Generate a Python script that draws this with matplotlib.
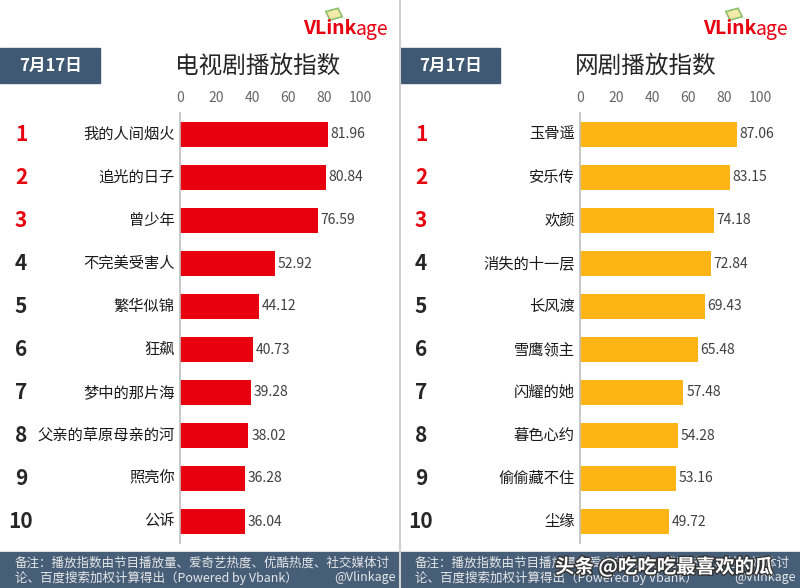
import matplotlib.pyplot as plt
import matplotlib.patheffects as pe
from matplotlib.patches import Rectangle

plt.rcParams['font.family'] = ['Noto Sans CJK SC', 'DejaVu Sans']

date_label = "7月17日"

tv_title = "电视剧播放指数"
tv_names = ["我的人间烟火", "追光的日子", "曾少年", "不完美受害人", "繁华似锦",
            "狂飙", "梦中的那片海", "父亲的草原母亲的河", "照亮你", "公诉"]
tv_values = [81.96, 80.84, 76.59, 52.92, 44.12, 40.73, 39.28, 38.02, 36.28, 36.04]

web_title = "网剧播放指数"
web_names = ["玉骨遥", "安乐传", "欢颜", "消失的十一层", "长风渡",
             "雪鹰领主", "闪耀的她", "暮色心约", "偷偷藏不住", "尘缘"]
web_values = [87.06, 83.15, 74.18, 72.84, 69.43, 65.48, 57.48, 54.28, 53.16, 49.72]

ticks = [0, 20, 40, 60, 80, 100]
ranks = [str(i) for i in range(1, 11)]

footer_line1 = "备注：播放指数由节目播放量、爱奇艺热度、优酷热度、社交媒体讨"
footer_line2 = "论、百度搜索加权计算得出（Powered by Vbank）"

W, H = 800, 588
fig = plt.figure(figsize=(8, 5.88), dpi=100)
fig.patch.set_facecolor("white")

red = "#e8000f"
orange = "#fdb516"
slate = "#3f5873"


def px(x, y):
    # pixel coords (top-left origin) -> figure fraction
    return x / W, 1 - y / H


def panel(x0, title, names, values, color):
    ax = fig.add_axes([(x0 + 180) / W, 1 - 543 / H, 180 / W, 430 / H])
    y = list(range(len(names)))
    ax.barh(y, values, height=0.58, color=color)
    ax.set_xlim(0, 100)
    ax.set_ylim(9.5, -0.5)
    ax.xaxis.tick_top()
    ax.set_xticks(ticks)
    ax.tick_params(axis="x", length=0, pad=6, labelsize=10, labelcolor="#666666")
    ax.set_yticks([])
    for s in ["top", "right", "bottom"]:
        ax.spines[s].set_visible(False)
    ax.spines["left"].set_color("#bfbfbf")
    ax.spines["left"].set_linewidth(1.2)
    ax.patch.set_alpha(0)
    for i, v in enumerate(values):
        ax.text(v + 1.5, i, f"{v:.2f}", va="center", ha="left",
                fontsize=10, color="#404040")
        ax.text(-3, i, names[i], va="center", ha="right",
                fontsize=11, color="#1a1a1a")
        ax.text(-(180 - 21) / 1.8, i, ranks[i], va="center", ha="center",
                fontsize=15, fontweight="bold",
                color=red if i < 3 else "#262626")

    # date box
    fig.patches.append(Rectangle(px(x0, 83), 100 / W, 35 / H,
                                 transform=fig.transFigure, color=slate))
    fig.text(*px(x0 + 50, 66), date_label, ha="center", va="center",
             fontsize=12, fontweight="bold", color="white")
    # title
    fig.text(*px(x0 + 175, 66), title, ha="left", va="center",
             fontsize=17, color="#262626")
    # logo
    fig.text(*px(x0 + 356, 29), "VLink", ha="right", va="center",
             fontsize=14, fontweight="bold", color=red)
    fig.text(*px(x0 + 356, 29), "age", ha="left", va="center",
             fontsize=14, color=red)
    fig.patches.append(Rectangle(px(x0 + 330, 20), 13 / W, 9 / H,
                                 transform=fig.transFigure, facecolor="#f3e9a8",
                                 edgecolor="#8cc06a", lw=1.2, angle=20))
    # footer
    fig.patches.append(Rectangle(px(x0, 588), 400 / W, 36 / H,
                                 transform=fig.transFigure, color="#475e78"))
    fig.text(*px(x0 + 15, 563), footer_line1, ha="left", va="center",
             fontsize=9, color="#e6e6e6")
    fig.text(*px(x0 + 15, 578), footer_line2, ha="left", va="center",
             fontsize=9, color="#e6e6e6")
    fig.text(*px(x0 + 396, 578), "@Vlinkage", ha="right", va="center",
             fontsize=9, color="#e6e6e6")


panel(0, tv_title, tv_names, tv_values, red)
panel(400, web_title, web_names, web_values, orange)

# divider between the two panels
fig.add_artist(plt.Line2D([399.5 / W, 399.5 / W], [0, 1], transform=fig.transFigure,
                          color="#d0d0d0", lw=1.5))

# watermark
fig.text(*px(555, 567), "头条 @吃吃吃最喜欢的瓜", ha="left", va="center",
         fontsize=14, fontweight="bold", color="white",
         path_effects=[pe.withStroke(linewidth=2, foreground="#333333")])

fig.savefig("out.png", dpi=100)
